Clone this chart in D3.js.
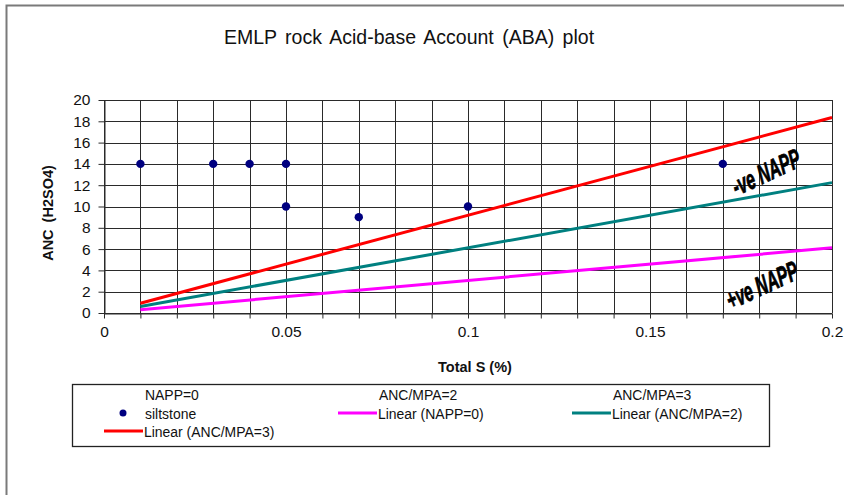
<!DOCTYPE html>
<html>
<head>
<meta charset="utf-8">
<script src="https://cdn.jsdelivr.net/npm/d3@7"></script>
<style>
  html, body { margin: 0; padding: 0; background: #fff; }
  svg { display: block; font-family: Arial, "Liberation Sans", sans-serif; }
</style>
</head>
<body>
<svg id="chart" width="844" height="495"></svg>
<script>
// Siltstone samples: total sulfur (%) and acid neutralising capacity
const sampleS   = [0.01, 0.03, 0.04, 0.05, 0.05, 0.07, 0.10, 0.17];
const sampleANC = [14, 14, 14, 14, 10, 9, 10, 14];

// Linear reference lines over the sulfur range
const lineS        = [0.01, 0.2];
const lineNAPP0    = [0.306, 6.12];   // ANC = MPA
const lineANCMPA2  = [0.612, 12.24];  // ANC = 2 x MPA
const lineANCMPA3  = [0.918, 18.36];  // ANC = 3 x MPA

const xTicks = [0, 0.05, 0.1, 0.15, 0.2];
const yTicks = [0, 2, 4, 6, 8, 10, 12, 14, 16, 18, 20];
const xGrid = d3.range(0, 21).map(i => i / 100);

const svg = d3.select("#chart");

// outer chart frame
svg.append("rect")
  .attr("x", 6.5).attr("y", 5.5)
  .attr("width", 900).attr("height", 600)
  .attr("fill", "#fff").attr("stroke", "#7a7a7a").attr("stroke-width", 2);

const plot = { left: 104, right: 832, top: 100, bottom: 313 };
const x = d3.scaleLinear().domain([0, 0.2]).range([plot.left, plot.right]);
const y = d3.scaleLinear().domain([0, 20]).range([plot.bottom, plot.top]);

// title
svg.append("text")
  .attr("x", 409).attr("y", 44)
  .attr("text-anchor", "middle")
  .attr("font-size", 19.5)
  .attr("word-spacing", 3)
  .attr("fill", "#111")
  .text("EMLP rock Acid-base Account (ABA) plot");

// gridlines
const grid = svg.append("g").attr("stroke", "#2a2a2a").attr("stroke-width", 1);
grid.selectAll("line.v").data(xGrid).join("line")
  .attr("x1", d => Math.round(x(d)) + 0.5).attr("x2", d => Math.round(x(d)) + 0.5)
  .attr("y1", plot.top).attr("y2", plot.bottom);
grid.selectAll("line.h").data(yTicks).join("line")
  .attr("x1", plot.left).attr("x2", plot.right)
  .attr("y1", d => Math.round(y(d)) + 0.5).attr("y2", d => Math.round(y(d)) + 0.5);

// axes
const xAxis = svg.append("g")
  .attr("transform", `translate(0,${Math.round(y(0)) + 0.5})`)
  .call(d3.axisBottom(x).tickValues(xGrid).tickSizeInner(5).tickSizeOuter(0)
    .tickFormat(d => xTicks.some(t => Math.abs(t - d) < 1e-9) ? d3.format("")(+d.toFixed(2)) : ""));
xAxis.select(".domain").attr("stroke", "#2a2a2a");
xAxis.selectAll(".tick line").attr("stroke", "#2a2a2a");
xAxis.selectAll(".tick text")
  .attr("font-size", 15.5).attr("fill", "#111")
  .attr("font-family", "Arial, 'Liberation Sans', sans-serif")
  .attr("dy", "1em");

const yAxis = svg.append("g")
  .attr("transform", `translate(${plot.left + 0.5},0)`)
  .call(d3.axisLeft(y).tickValues(yTicks).tickSizeInner(6).tickSizeOuter(0).tickPadding(8));
yAxis.select(".domain").attr("stroke", "#2a2a2a");
yAxis.selectAll(".tick line").attr("stroke", "#2a2a2a");
yAxis.selectAll(".tick text")
  .attr("font-size", 15.5).attr("fill", "#111")
  .attr("font-family", "Arial, 'Liberation Sans', sans-serif");

// axis titles
svg.append("text")
  .attr("x", 475).attr("y", 372)
  .attr("text-anchor", "middle")
  .attr("font-size", 14.5).attr("font-weight", "bold").attr("fill", "#111")
  .text("Total S (%)");
svg.append("text")
  .attr("transform", "translate(53,213) rotate(-90)")
  .attr("text-anchor", "middle")
  .attr("font-size", 14.5).attr("font-weight", "bold").attr("fill", "#111")
  .attr("word-spacing", 3)
  .text("ANC (H2SO4)");

// linear reference lines
const lines = [
  { name: "Linear (NAPP=0)",    values: lineNAPP0,   color: "#ff00ff" },
  { name: "Linear (ANC/MPA=2)", values: lineANCMPA2, color: "#008080" },
  { name: "Linear (ANC/MPA=3)", values: lineANCMPA3, color: "#ff0000" }
];
const lineGen = d3.line().x(d => x(d[0])).y(d => y(d[1]));
svg.append("g").selectAll("path").data(lines).join("path")
  .attr("d", d => lineGen(lineS.map((s, i) => [s, d.values[i]])))
  .attr("fill", "none")
  .attr("stroke", d => d.color)
  .attr("stroke-width", 3);

// siltstone points
svg.append("g").selectAll("circle").data(sampleS.map((s, i) => [s, sampleANC[i]])).join("circle")
  .attr("cx", d => x(d[0])).attr("cy", d => y(d[1]))
  .attr("r", 4.2)
  .attr("fill", "#000080");

// zone annotations
const zoneLabels = [
  { text: "-ve NAPP", cx: 766, cy: 172 },
  { text: "+ve NAPP", cx: 762, cy: 285 }
];
svg.append("g").selectAll("text").data(zoneLabels).join("text")
  .attr("transform", d => `translate(${d.cx},${d.cy}) rotate(-25) scale(0.6,1) skewX(-6)`)
  .attr("text-anchor", "middle")
  .attr("dy", "0.35em")
  .attr("font-size", 27)
  .attr("font-weight", "bold")
  .attr("font-style", "italic")
  .attr("fill", "#000")
  .attr("stroke", "#000").attr("stroke-width", 0.8)
  .text(d => d.text);

// legend
const legend = svg.append("g");
legend.append("rect")
  .attr("x", 72.5).attr("y", 384.5).attr("width", 697).attr("height", 62)
  .attr("fill", "#fff").attr("stroke", "#222").attr("stroke-width", 1.3);

const colX = [104, 338, 572];
const rowY = [394, 413, 431];
const legendItems = [
  { label: "NAPP=0",             kind: "none" },
  { label: "ANC/MPA=2",          kind: "none" },
  { label: "ANC/MPA=3",          kind: "none" },
  { label: "siltstone",          kind: "dot",  color: "#000080" },
  { label: "Linear (NAPP=0)",    kind: "line", color: "#ff00ff" },
  { label: "Linear (ANC/MPA=2)", kind: "line", color: "#008080" },
  { label: "Linear (ANC/MPA=3)", kind: "line", color: "#ff0000" }
];
legendItems.forEach((item, i) => {
  const gx = colX[i % 3], gy = rowY[Math.floor(i / 3)];
  if (item.kind === "line") {
    legend.append("line")
      .attr("x1", gx).attr("x2", gx + 39).attr("y1", gy).attr("y2", gy)
      .attr("stroke", item.color).attr("stroke-width", 3);
  } else if (item.kind === "dot") {
    legend.append("circle").attr("cx", gx + 19).attr("cy", gy).attr("r", 3.5).attr("fill", item.color);
  }
  const tx = gx + (item.kind === "line" ? 40 : 41);
  legend.append("text")
    .attr("transform", `translate(${tx},${gy}) scale(0.9,1)`)
    .attr("dy", "0.36em")
    .attr("font-size", 15.5)
    .attr("fill", "#111")
    .text(item.label);
});
</script>
</body>
</html>
